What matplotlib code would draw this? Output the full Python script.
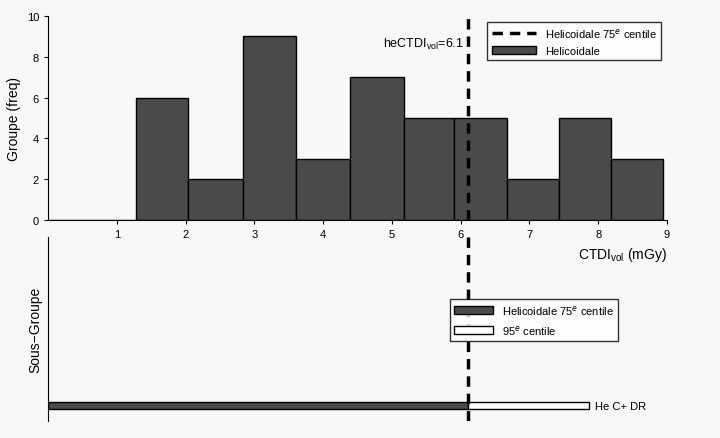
import numpy as np
import matplotlib
matplotlib.use("Agg")
from matplotlib import pyplot as plt

binEdges = [1.28, 2.04, 2.83, 3.6, 4.39, 5.17, 5.91, 6.67, 7.43, 8.18, 8.94]
counts = [6, 2, 9, 3, 7, 5, 5, 2, 5, 3]
p75 = 6.1
p95 = 7.86
subLabel = "He C+ DR"

bg = "#f8f8f8"
dark = "#4a4a4a"
plt.rcParams["font.family"] = "Liberation Sans"
fig = plt.figure(figsize=(7.2, 4.39), dpi=100, facecolor=bg)
W, H = 720, 439
def box(x0, y0, x1, y1):
    return [x0 / W, 1 - y1 / H, (x1 - x0) / W, (y1 - y0) / H]

ax1 = fig.add_axes(box(48, 17, 667, 221), facecolor=bg)
widths = np.diff(binEdges)
ax1.bar(binEdges[:-1], counts, width=widths, align="edge", color=dark, edgecolor="black", linewidth=1, label="Helicoidale")
ax1.plot([0, binEdges[0]], [0, 0], color="black", lw=1)
ax1.axvline(p75, color="black", ls=(0, (3, 2)), lw=2.5, label="Helicoidale 75$^{e}$ centile")
ax1.text(p75 - 0.05, 8.3, r"heCTDI$_{\mathregular{vol}}$=6.1", ha="right", va="bottom", fontsize=9)
ax1.set_xlim(0, 9)
ax1.set_ylim(0, 10)
ax1.set_xticks(range(1, 10))
ax1.set_yticks(range(0, 11, 2))
ax1.tick_params(labelsize=8, length=3)
for s in ["top", "right"]:
    ax1.spines[s].set_visible(False)
ax1.set_ylabel("Groupe (freq)", fontsize=10)
ax1.set_xlabel(r"CTDI$_{\mathregular{vol}}$ (mGy)", fontsize=10, loc="right")
leg = ax1.legend(loc="upper right", fontsize=8, frameon=True, fancybox=False, edgecolor="black", facecolor="white", handlelength=4)
leg.get_frame().set_linewidth(1)

ax2 = fig.add_axes(box(48, 238, 667, 422), facecolor="none")
ax2.barh([0], [p75], height=0.55, left=0, color=dark, edgecolor="black", lw=1, label="Helicoidale 75$^{e}$ centile")
ax2.barh([0], [p95 - p75], height=0.55, left=p75, color="white", edgecolor="black", lw=1, label="95$^{e}$ centile")
ax2.axvline(p75, color="black", ls=(0, (3, 2)), lw=2.5)
ax2.text(p95 + 0.1, 0, subLabel, va="center", fontsize=8)
ax2.set_xlim(0, 9)
ax2.set_ylim(-1.1, 12)
ax2.set_xticks([])
ax2.set_yticks([])
for s in ["top", "right", "bottom"]:
    ax2.spines[s].set_visible(False)
ax2.set_ylabel("Sous\u2212Groupe", fontsize=10)
leg2 = ax2.legend(loc="center right", bbox_to_anchor=(0.93, 0.55), fontsize=8, frameon=True, fancybox=False, edgecolor="black", facecolor="white", handlelength=3.5)
leg2.get_frame().set_linewidth(1)

fig.savefig("out.png", dpi=100, facecolor=bg)
